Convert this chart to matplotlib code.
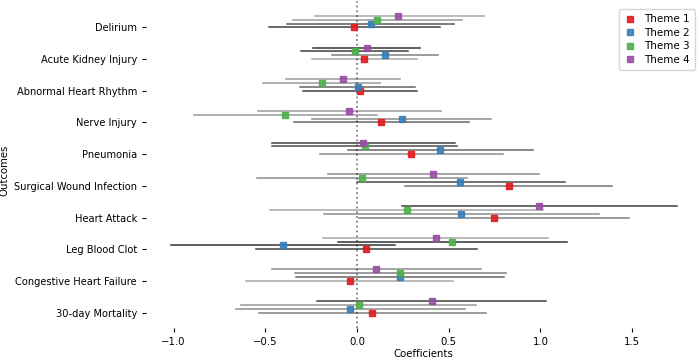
import matplotlib
matplotlib.use("Agg")
import matplotlib.pyplot as plt
import numpy as np

outcomes = ["30-day Mortality", "Congestive Heart Failure", "Leg Blood Clot",
            "Heart Attack", "Surgical Wound Infection", "Pneumonia",
            "Nerve Injury", "Abnormal Heart Rhythm", "Acute Kidney Injury",
            "Delirium"]
themes = ["Theme 1", "Theme 2", "Theme 3", "Theme 4"]

# coefficients per theme, ordered like `outcomes`
coef_t1 = [0.083, -0.038, 0.049, 0.747, 0.827, 0.296, 0.133, 0.015, 0.040, -0.015]
coef_t2 = [-0.036, 0.236, -0.405, 0.569, 0.563, 0.454, 0.245, 0.004, 0.155, 0.075]
coef_t3 = [0.009, 0.236, 0.520, 0.271, 0.029, 0.042, -0.390, -0.193, -0.011, 0.110]
coef_t4 = [0.407, 0.105, 0.429, 0.994, 0.414, 0.035, -0.042, -0.076, 0.053, 0.225]

# confidence interval bounds
low_t1 = [-0.534, -0.605, -0.550, 0.011, 0.262, -0.200, -0.343, -0.294, -0.245, -0.480]
high_t1 = [0.701, 0.525, 0.652, 1.484, 1.393, 0.794, 0.609, 0.325, 0.325, 0.450]
low_t2 = [-0.660, -0.334, -1.015, -0.180, 0.002, -0.049, -0.243, -0.310, -0.135, -0.380]
high_t2 = [0.589, 0.803, 0.205, 1.320, 1.132, 0.957, 0.730, 0.316, 0.443, 0.530]
low_t3 = [-0.632, -0.338, -0.105, -0.474, -0.543, -0.463, -0.887, -0.510, -0.305, -0.350]
high_t3 = [0.649, 0.810, 1.143, 1.015, 0.598, 0.547, 0.107, 0.124, 0.280, 0.570]
low_t4 = [-0.220, -0.463, -0.185, 0.243, -0.158, -0.463, -0.540, -0.387, -0.240, -0.230]
high_t4 = [1.030, 0.674, 1.043, 1.745, 0.990, 0.532, 0.456, 0.236, 0.343, 0.690]

coefs = [coef_t1, coef_t2, coef_t3, coef_t4]
lows = [low_t1, low_t2, low_t3, low_t4]
highs = [high_t1, high_t2, high_t3, high_t4]

# style: line darkness per theme/outcome
line_alpha = [
    [0.50, 0.35, 0.75, 0.50, 0.55, 0.45, 0.60, 0.75, 0.35, 0.75],
    [0.45, 0.60, 0.80, 0.45, 0.70, 0.60, 0.45, 0.60, 0.50, 0.65],
    [0.40, 0.50, 0.80, 0.35, 0.45, 0.70, 0.40, 0.40, 0.75, 0.40],
    [0.75, 0.45, 0.35, 0.75, 0.45, 0.75, 0.40, 0.40, 0.80, 0.35],
]
colors = ["#e41a1c", "#377eb8", "#4daf4a", "#984ea3"]
offset = 0.12

fig = plt.figure(figsize=(7, 3.58), dpi=100)
ax = fig.add_axes([146 / 700, 30.5 / 358, 554 / 700, 326.5 / 358])

y_base = np.arange(len(outcomes))
for k in range(len(themes)):
    ys = y_base + offset * k
    for i in range(len(outcomes)):
        ax.plot([lows[k][i], highs[k][i]], [ys[i], ys[i]], color="black",
                alpha=line_alpha[k][i], lw=1.1, zorder=1)
    ax.plot(coefs[k], ys, linestyle="none", marker="s", markersize=4.5,
            color=colors[k], alpha=0.9, label=themes[k], zorder=3)

ax.axvline(0, color="gray", linestyle=":", lw=1.3, zorder=0)

ax.set_yticks(y_base)
ax.set_yticklabels(outcomes, fontsize=7.1)
ax.tick_params(axis="x", labelsize=7.3, length=3)
ax.tick_params(axis="y", length=3)
ax.set_xticks([-1.0, -0.5, 0.0, 0.5, 1.0, 1.5])
ax.set_xlim(-1.15, 1.87)
ax.set_ylim(-0.47, 9.83)
ax.set_xlabel("Coefficients", fontsize=7.3, labelpad=2)
ax.set_ylabel("Outcomes", fontsize=7.3)
ax.yaxis.set_label_coords(-0.247, 0.48)
for s in ax.spines.values():
    s.set_visible(False)

ax.legend(loc="upper right", fontsize=7.5, handlelength=1.2, markerscale=1.0,
          borderpad=0.45, labelspacing=0.35, bbox_to_anchor=(1.0, 0.99))

fig.savefig("out.png", dpi=100)
